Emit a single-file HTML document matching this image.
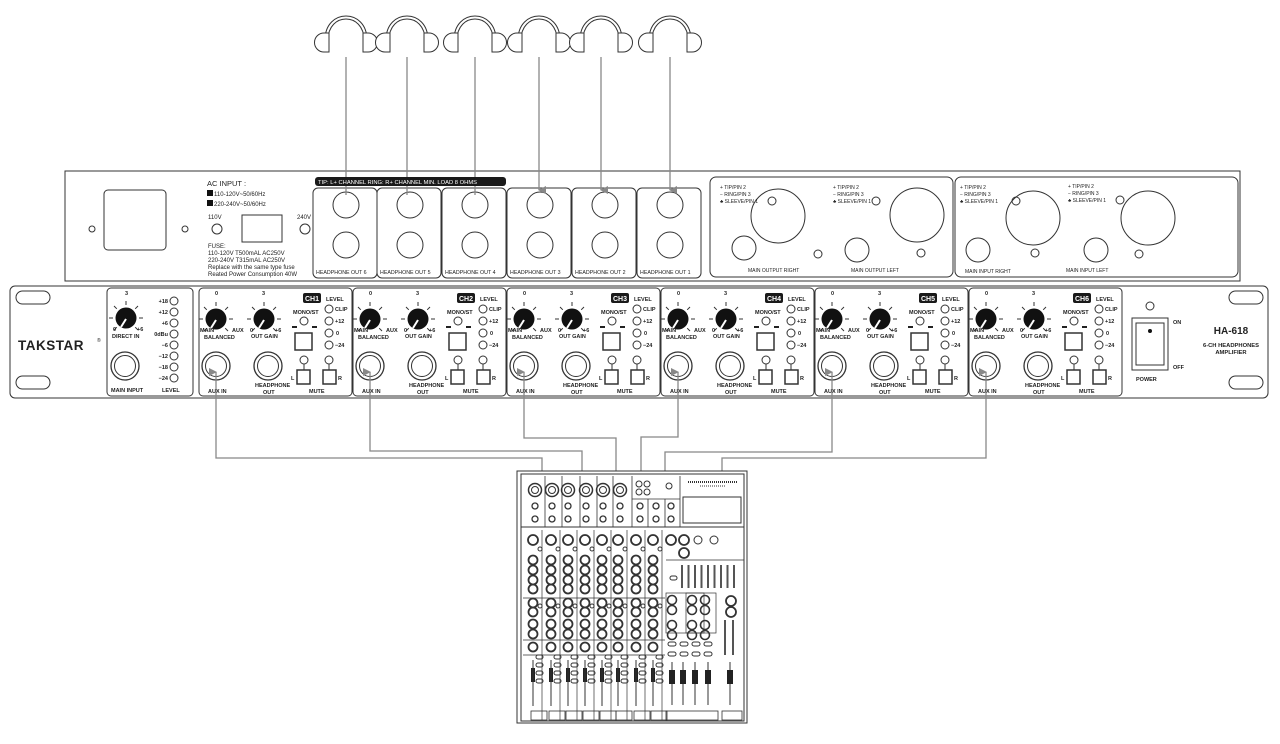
<!DOCTYPE html>
<html><head><meta charset="utf-8">
<style>
html,body{margin:0;padding:0;background:#fff;}
svg{display:block;font-family:"Liberation Sans",Arial,sans-serif;}
.t{font-size:6px;fill:#222;}
.b{font-size:5.5px;font-weight:bold;fill:#222;}
</style></head>
<body>
<svg width="1280" height="744" viewBox="0 0 1280 744" xmlns="http://www.w3.org/2000/svg">
<defs>
<marker id="ar" markerWidth="8" markerHeight="8" refX="4" refY="7" orient="auto" markerUnits="userSpaceOnUse">
<path d="M0,0 L8,0 L4,8 Z" fill="#888"/></marker>
<g id="kn">
<g stroke="#333" stroke-width="1">
<line x1="-9.2" y1="9.2" x2="-12" y2="12"/><line x1="-13" y1="0" x2="-17" y2="0"/>
<line x1="-9.2" y1="-9.2" x2="-12" y2="-12"/><line x1="0" y1="-13" x2="0" y2="-17"/>
<line x1="9.2" y1="-9.2" x2="12" y2="-12"/><line x1="13" y1="0" x2="17" y2="0"/>
<line x1="9.2" y1="9.2" x2="12" y2="12"/></g>
<circle r="10.5" fill="#111"/>
<line x1="0" y1="1" x2="-5" y2="9" stroke="#fff" stroke-width="2"/>
</g>
<g id="jk" fill="none" stroke="#333"><circle r="14" stroke-width="1.3"/><circle r="10.5"/></g>
<g id="hp" fill="none" stroke="#333">
<path d="M-21,40 C-21,8 21,8 21,40"/><path d="M-18,40 C-18,12 18,12 18,40"/>
<path d="M-22,33 L-17,33 L-17,52 L-22,52 A9.5 9.5 0 0 1 -22,33 Z" fill="#fff"/>
<path d="M22,33 L17,33 L17,52 L22,52 A9.5 9.5 0 0 0 22,33 Z" fill="#fff"/>
</g>
<g id="hm" fill="none" stroke="#333">
<rect x="0" y="188" width="64" height="90" rx="5"/><circle cx="33" cy="205" r="13"/><circle cx="33" cy="245" r="13"/>
</g>
<g id="ch">
<rect x="0" y="288" width="153" height="108" rx="4" fill="none" stroke="#333"/>
<use href="#kn" x="17" y="319"/><use href="#kn" x="65" y="319"/>
<g fill="none" stroke="#333">
<circle cx="130" cy="309" r="4"/><circle cx="130" cy="321" r="4"/><circle cx="130" cy="333" r="4"/><circle cx="130" cy="345" r="4"/>
<circle cx="105" cy="321" r="4"/>
<rect x="96" y="333" width="17" height="17" stroke-width="1.5"/>
<circle cx="105" cy="360" r="4"/><line x1="105" y1="364" x2="105" y2="370"/><rect x="98" y="370" width="13" height="14" stroke-width="1.5"/>
<circle cx="130" cy="360" r="4"/><line x1="130" y1="364" x2="130" y2="370"/><rect x="124" y="370" width="13" height="14" stroke-width="1.5"/>
</g>
<use href="#jk" x="17" y="366"/><use href="#jk" x="69" y="366"/>
<rect x="93" y="326" width="5" height="2" fill="#222"/><rect x="113" y="326" width="5" height="2" fill="#222"/>
<rect x="104" y="293" width="18" height="10" rx="2" fill="#1a1a1a"/>
<g class="b">
<text x="127" y="301">LEVEL</text>
<text x="136" y="311">CLIP</text><text x="136" y="323">+12</text><text x="137" y="335">0</text><text x="136" y="347">−24</text>
<text x="16" y="295">0</text><text x="63" y="295">3</text>
<text x="1" y="332">MAIN</text><text x="33" y="332">AUX</text><text x="5" y="339">BALANCED</text>
<text x="51" y="332">0</text><text x="76" y="332">+6</text><text x="52" y="338">OUT GAIN</text>
<text x="94" y="314">MONO/ST</text>
<text x="92" y="380">L</text><text x="139" y="380">R</text>
<text x="9" y="393">AUX IN</text><text x="56" y="387">HEADPHONE</text><text x="64" y="394">OUT</text><text x="110" y="393">MUTE</text>
</g>
</g>
<g id="mc" fill="none" stroke="#333">
<line x1="9" y1="530" x2="9" y2="720" stroke-width="0.7"/>
<circle cx="0" cy="540" r="5" stroke-width="1.8"/><circle cx="7" cy="549" r="2"/>
<g stroke-width="1.8">
<circle cx="0" cy="560" r="4.5"/><circle cx="0" cy="570" r="4.5"/><circle cx="0" cy="580" r="4.5"/><circle cx="0" cy="589" r="4.5"/>
<circle cx="0" cy="603" r="4.5"/><circle cx="0" cy="612" r="4.5"/><circle cx="0" cy="624" r="4.5"/><circle cx="0" cy="634" r="4.5"/><circle cx="0" cy="647" r="4.5"/>
</g>
<circle cx="7" cy="606" r="2"/>
<rect x="-2" y="668" width="4" height="14" fill="#222" stroke="none"/>
<line x1="0" y1="660" x2="0" y2="706"/>
<rect x="3" y="655" width="7" height="4" rx="2"/><rect x="3" y="663" width="7" height="4" rx="2"/><rect x="3" y="671" width="7" height="4" rx="2"/><rect x="3" y="679" width="7" height="4" rx="2"/>
<rect x="-2" y="711" width="16" height="9" stroke-width="0.8"/>
</g>
<g id="xl" fill="none" stroke="#333"><circle r="6.5" stroke-width="1.5"/><circle r="3.5"/></g>
<g id="sm" fill="none" stroke="#333" stroke-width="1.3"><circle cy="506" r="3"/><circle cy="519" r="3"/></g>
<g id="fd"><line x1="0" y1="662" x2="0" y2="705" stroke="#333"/><rect x="-3" y="670" width="6" height="14" fill="#222"/></g>
</defs>

<!-- headphones + lines -->
<use href="#hp" x="346" y="0"/><use href="#hp" x="407" y="0"/><use href="#hp" x="475" y="0"/>
<use href="#hp" x="539" y="0"/><use href="#hp" x="601" y="0"/><use href="#hp" x="670" y="0"/>

<g fill="none" stroke="#333" stroke-width="1">
<rect x="65" y="171" width="1175" height="110"/>
<rect x="104" y="190" width="62" height="60" rx="4"/>
<circle cx="92" cy="229" r="3"/><circle cx="185" cy="229" r="3"/>
<circle cx="217" cy="229" r="5"/><circle cx="305" cy="229" r="5"/>
<rect x="242" y="215" width="40" height="27"/>
<rect x="710" y="177" width="243" height="100" rx="6"/>
<rect x="955" y="177" width="283" height="100" rx="6"/>
<circle cx="778" cy="216" r="27"/><circle cx="917" cy="215" r="27"/>
<circle cx="1033" cy="218" r="27"/><circle cx="1148" cy="218" r="27"/>
<circle cx="744" cy="248" r="12"/><circle cx="857" cy="250" r="12"/>
<circle cx="978" cy="250" r="12"/><circle cx="1096" cy="250" r="12"/>
<circle cx="772" cy="201" r="4"/><circle cx="876" cy="201" r="4"/>
<circle cx="1016" cy="201" r="4"/><circle cx="1120" cy="200" r="4"/>
<circle cx="818" cy="254" r="4"/><circle cx="921" cy="253" r="4"/>
<circle cx="1035" cy="253" r="4"/><circle cx="1139" cy="254" r="4"/>
<rect x="10" y="286" width="1258" height="112" rx="5"/>
<rect x="16" y="291" width="34" height="13" rx="6.5"/>
<rect x="16" y="376" width="34" height="13" rx="6.5"/>
<rect x="1229" y="291" width="34" height="13" rx="6.5"/>
<rect x="1229" y="376" width="34" height="13" rx="6.5"/>
<rect x="107" y="288" width="86" height="108" rx="4"/>
<circle cx="1150" cy="306" r="4"/>
<rect x="1132" y="318" width="36" height="52"/>
<rect x="1136" y="323" width="28" height="42"/>
<circle cx="174" cy="301" r="4"/><circle cx="174" cy="312" r="4"/><circle cx="174" cy="323" r="4"/><circle cx="174" cy="334" r="4"/>
<circle cx="174" cy="345" r="4"/><circle cx="174" cy="356" r="4"/><circle cx="174" cy="367" r="4"/><circle cx="174" cy="378" r="4"/>
</g>
<circle cx="1150" cy="331" r="2" fill="#111"/>
<use href="#kn" x="126" y="318"/><use href="#jk" x="125" y="366"/>

<!-- headphone modules -->
<use href="#hm" x="313" y="0"/><use href="#hm" x="377" y="0"/><use href="#hm" x="442" y="0"/>
<use href="#hm" x="507" y="0"/><use href="#hm" x="572" y="0"/><use href="#hm" x="637" y="0"/>
<g class="t" style="font-size:5.3px">
<text x="316" y="274">HEADPHONE OUT 6</text><text x="380" y="274">HEADPHONE OUT 5</text><text x="445" y="274">HEADPHONE OUT 4</text>
<text x="510" y="274">HEADPHONE OUT 3</text><text x="575" y="274">HEADPHONE OUT 2</text><text x="640" y="274">HEADPHONE OUT 1</text>
</g>

<!-- channels -->
<use href="#ch" x="199" y="0"/><use href="#ch" x="353" y="0"/><use href="#ch" x="507" y="0"/>
<use href="#ch" x="661" y="0"/><use href="#ch" x="815" y="0"/><use href="#ch" x="969" y="0"/>
<g style="font-size:7px;font-weight:bold" fill="#fff">
<text x="305" y="301">CH1</text><text x="459" y="301">CH2</text><text x="613" y="301">CH3</text>
<text x="767" y="301">CH4</text><text x="921" y="301">CH5</text><text x="1075" y="301">CH6</text>
</g>

<!-- lines from headphones -->
<g stroke="#888" stroke-width="1.3" fill="none">
<line x1="346" y1="57" x2="346" y2="195"/><line x1="407" y1="57" x2="407" y2="195"/><line x1="475" y1="57" x2="475" y2="195"/>
<line x1="539" y1="57" x2="539" y2="190" marker-end="url(#ar)"/>
<line x1="601" y1="57" x2="601" y2="190" marker-end="url(#ar)"/>
<line x1="670" y1="57" x2="670" y2="190" marker-end="url(#ar)"/>
<polyline points="542,474 542,458 216,458 216,372" marker-end="url(#ar)"/>
<polyline points="582,474 582,451 370,451 370,372" marker-end="url(#ar)"/>
<polyline points="616,474 616,438 524,438 524,372" marker-end="url(#ar)"/>
<polyline points="641,474 641,437 678,437 678,372" marker-end="url(#ar)"/>
<polyline points="665,474 665,452 832,452 832,372" marker-end="url(#ar)"/>
<polyline points="722,474 722,458 986,458 986,372" marker-end="url(#ar)"/>
</g>

<!-- mixer -->
<g fill="none" stroke="#333">
<rect x="517" y="471" width="230" height="252" fill="#fff"/><rect x="521" y="474" width="223" height="247"/>
<line x1="521" y1="527" x2="744" y2="527"/>
<g stroke-width="0.8">
<line x1="545" y1="476" x2="545" y2="527"/><line x1="562" y1="476" x2="562" y2="527"/><line x1="580" y1="476" x2="580" y2="527"/>
<line x1="597" y1="476" x2="597" y2="527"/><line x1="613" y1="476" x2="613" y2="527"/><line x1="632" y1="476" x2="632" y2="527"/>
<line x1="648" y1="499" x2="648" y2="527"/><line x1="665" y1="499" x2="665" y2="527"/><line x1="680" y1="476" x2="680" y2="527"/>
<line x1="632" y1="499" x2="680" y2="499"/>
</g>
<circle cx="639" cy="484" r="3"/><circle cx="647" cy="484" r="3"/><circle cx="639" cy="492" r="3"/><circle cx="647" cy="492" r="3"/><circle cx="669" cy="486" r="3"/>
<rect x="683" y="497" width="58" height="26"/>
<line x1="688" y1="482" x2="738" y2="482" stroke-width="2" stroke-dasharray="1,1"/><line x1="700" y1="486" x2="725" y2="486" stroke-dasharray="1,1"/>
</g>
<use href="#xl" x="535" y="490"/><use href="#xl" x="552" y="490"/><use href="#xl" x="568" y="490"/>
<use href="#xl" x="586" y="490"/><use href="#xl" x="603" y="490"/><use href="#xl" x="620" y="490"/>
<use href="#sm" x="535"/><use href="#sm" x="552"/><use href="#sm" x="568"/><use href="#sm" x="586"/><use href="#sm" x="603"/>
<use href="#sm" x="620"/><use href="#sm" x="640"/><use href="#sm" x="656"/><use href="#sm" x="671"/>
<use href="#mc" x="533"/><use href="#mc" x="551"/><use href="#mc" x="568"/><use href="#mc" x="585"/>
<use href="#mc" x="602"/><use href="#mc" x="618"/><use href="#mc" x="636"/><use href="#mc" x="653"/>
<g fill="none" stroke="#333">
<g stroke-width="0.7"><line x1="523" y1="598" x2="665" y2="598"/><line x1="523" y1="640" x2="665" y2="640"/><line x1="523" y1="655" x2="665" y2="655"/><line x1="666" y1="560" x2="744" y2="560"/>
<rect x="666" y="593" width="38" height="40"/><rect x="686" y="593" width="30" height="40"/></g>
<g stroke-width="1.8"><circle cx="671" cy="540" r="5"/><circle cx="684" cy="540" r="5"/><circle cx="684" cy="553" r="5"/><circle cx="731" cy="601" r="5"/><circle cx="731" cy="612" r="5"/></g>
<circle cx="698" cy="540" r="4"/><circle cx="714" cy="540" r="4"/>
<g stroke-width="1.6">
<circle cx="672" cy="600" r="4.5"/><circle cx="672" cy="610" r="4.5"/><circle cx="672" cy="625" r="4.5"/><circle cx="672" cy="635" r="4.5"/>
<circle cx="692" cy="600" r="4.5"/><circle cx="692" cy="610" r="4.5"/><circle cx="692" cy="625" r="4.5"/><circle cx="692" cy="635" r="4.5"/>
<circle cx="705" cy="600" r="4.5"/><circle cx="705" cy="610" r="4.5"/><circle cx="705" cy="625" r="4.5"/><circle cx="705" cy="635" r="4.5"/>
</g>
<g stroke="#555" stroke-width="2">
<line x1="682" y1="565" x2="682" y2="588"/><line x1="688.5" y1="565" x2="688.5" y2="588"/><line x1="695" y1="565" x2="695" y2="588"/>
<line x1="701.5" y1="565" x2="701.5" y2="588"/><line x1="708" y1="565" x2="708" y2="588"/><line x1="714.5" y1="565" x2="714.5" y2="588"/>
<line x1="721" y1="565" x2="721" y2="588"/><line x1="727.5" y1="565" x2="727.5" y2="588"/><line x1="734" y1="565" x2="734" y2="588"/>
<line x1="725" y1="620" x2="725" y2="655"/><line x1="733" y1="620" x2="733" y2="655"/>
</g>
<rect x="670" y="576" width="7" height="4" rx="2"/>
<rect x="668" y="642" width="8" height="4" rx="2"/><rect x="680" y="642" width="8" height="4" rx="2"/><rect x="692" y="642" width="8" height="4" rx="2"/><rect x="704" y="642" width="8" height="4" rx="2"/>
<rect x="668" y="652" width="8" height="4" rx="2"/><rect x="680" y="652" width="8" height="4" rx="2"/><rect x="692" y="652" width="8" height="4" rx="2"/><rect x="704" y="652" width="8" height="4" rx="2"/>
<rect x="666" y="711" width="52" height="9" stroke-width="0.8"/><rect x="722" y="711" width="20" height="9" stroke-width="0.8"/>
</g>
<use href="#fd" x="672"/><use href="#fd" x="683"/><use href="#fd" x="695"/><use href="#fd" x="708"/><use href="#fd" x="730"/>

<!-- rear text -->
<text x="207" y="186" style="font-size:7.5px" fill="#222">AC INPUT :</text>
<rect x="207" y="190" width="6" height="6" fill="#111"/><text x="214" y="196" class="t">110-120V~50/60Hz</text>
<rect x="207" y="200" width="6" height="6" fill="#111"/><text x="214" y="206" class="t">220-240V~50/60Hz</text>
<text x="208" y="219" class="t">110V</text><text x="297" y="219" class="t">240V</text>
<text x="208" y="248" class="t">FUSE:</text>
<text x="208" y="255" class="t">110-120V  T500mAL  AC250V</text>
<text x="208" y="262" class="t">220-240V  T315mAL  AC250V</text>
<text x="208" y="269" class="t">Replace with the same type fuse</text>
<text x="208" y="276" class="t">Reated Power Consumption 40W</text>
<rect x="315" y="177" width="191" height="9" rx="3" fill="#1a1a1a"/>
<text x="318" y="184" style="font-size:5.8px" fill="#fff">TIP: L+ CHANNEL RING: R+ CHANNEL MIN. LOAD 8 OHMS</text>
<g class="t" style="font-size:5px">
<text x="720" y="189">+ TIP/PIN 2</text><text x="720" y="196">− RING/PIN 3</text><text x="720" y="203">♣ SLEEVE/PIN 1</text>
<text x="833" y="189">+ TIP/PIN 2</text><text x="833" y="196">− RING/PIN 3</text><text x="833" y="203">♣ SLEEVE/PIN 1</text>
<text x="960" y="189">+ TIP/PIN 2</text><text x="960" y="196">− RING/PIN 3</text><text x="960" y="203">♣ SLEEVE/PIN 1</text>
<text x="1068" y="188">+ TIP/PIN 2</text><text x="1068" y="195">− RING/PIN 3</text><text x="1068" y="202">♣ SLEEVE/PIN 1</text>
<text x="748" y="272">MAIN OUTPUT RIGHT</text><text x="851" y="272">MAIN OUTPUT LEFT</text>
<text x="965" y="273">MAIN INPUT RIGHT</text><text x="1066" y="272">MAIN INPUT LEFT</text>
</g>
<!-- front text -->
<text x="18" y="350" style="font-size:13.5px;font-weight:bold;letter-spacing:0.5px" fill="#222">TAKSTAR</text>
<text x="97" y="342" style="font-size:5px" fill="#222">®</text>
<g class="b">
<text x="125" y="295">3</text><text x="113" y="331">0</text><text x="137" y="331">+6</text>
<text x="112" y="338">DIRECT IN</text>
<text x="111" y="392">MAIN INPUT</text><text x="162" y="392">LEVEL</text>
<text x="168" y="303" text-anchor="end">+18</text><text x="168" y="314" text-anchor="end">+12</text>
<text x="168" y="325" text-anchor="end">+6</text><text x="168" y="336" text-anchor="end">0dBu</text>
<text x="168" y="347" text-anchor="end">−6</text><text x="168" y="358" text-anchor="end">−12</text>
<text x="168" y="369" text-anchor="end">−18</text><text x="168" y="380" text-anchor="end">−24</text>
<text x="1136" y="381">POWER</text>
<text x="1173" y="324">ON</text><text x="1173" y="369">OFF</text>
</g>
<text x="1231" y="334" text-anchor="middle" style="font-size:10px;font-weight:bold" fill="#222">HA-618</text>
<text x="1231" y="347" text-anchor="middle" style="font-size:5.8px;font-weight:bold" fill="#222">6-CH HEADPHONES</text>
<text x="1231" y="354" text-anchor="middle" style="font-size:5.8px;font-weight:bold" fill="#222">AMPLIFIER</text>
</svg>
</body></html>
